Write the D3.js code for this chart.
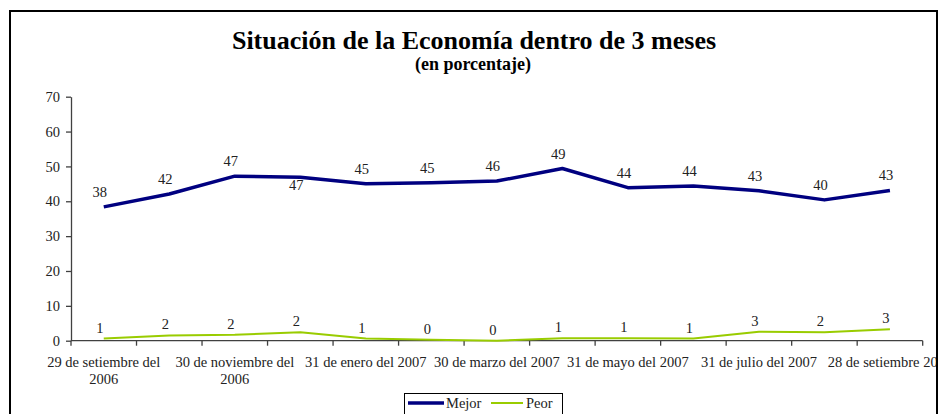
<!DOCTYPE html>
<html>
<head>
<meta charset="utf-8">
<script src="https://cdn.jsdelivr.net/npm/d3@7"></script>
<style>
  html, body { margin: 0; padding: 0; background: #fff; }
  svg { display: block; font-family: "Liberation Serif", "Times New Roman", serif; }
</style>
</head>
<body>
<svg id="chart" width="941" height="414"></svg>
<script>
const title = "Situación de la Economía dentro de 3 meses";
const subtitle = "(en porcentaje)";
const categories = [
  "29 de setiembre del 2006", "31 de octubre del 2006", "30 de noviembre del 2006",
  "29 de diciembre del 2006", "31 de enero del 2007", "28 de febrero del 2007",
  "30 de marzo del 2007", "30 de abril del 2007", "31 de mayo del 2007",
  "29 de junio del 2007", "31 de julio del 2007", "31 de agosto del 2007",
  "28 de setiembre 2007"
];
const mejor = [38.4, 42.1, 47.2, 46.9, 45.0, 45.3, 45.8, 49.4, 43.9, 44.4, 43.0, 40.4, 43.1];
const peor  = [0.6, 1.5, 1.7, 2.4, 0.6, 0.3, 0.0, 0.7, 0.7, 0.6, 2.6, 2.4, 3.3];
const yTicks = [0, 10, 20, 30, 40, 50, 60, 70];
const seriesNames = ["Mejor", "Peor"];

(function () {
const FONT = "Liberation Serif, Times New Roman, serif";
const FS = 14.5;
const svg = d3.select("#chart");
const pLeft = 71, pRight = 922.7, pTop = 96.7, pBottom = 340.7;

svg.append("defs").append("clipPath").attr("id", "clip")
  .append("rect").attr("x", 10).attr("y", 11).attr("width", 926).attr("height", 420);

const g = svg.append("g").attr("clip-path", "url(#clip)").attr("font-family", FONT);

const x = d3.scaleBand().domain(categories).range([pLeft, pRight]).padding(0);
const y = d3.scaleLinear().domain([0, 70]).range([pBottom, pTop]);
const cx = d => x(d) + x.bandwidth() / 2;

// Title
g.append("text").attr("x", 474).attr("y", 49).attr("text-anchor", "middle")
  .attr("font-size", 26).attr("font-weight", "bold").attr("fill", "#000").text(title);
g.append("text").attr("x", 473).attr("y", 70).attr("text-anchor", "middle")
  .attr("font-size", 18).attr("font-weight", "bold").attr("fill", "#000").text(subtitle);

// Y axis
const yAxis = g.append("g").attr("transform", `translate(${pLeft},0)`)
  .call(d3.axisLeft(y).tickValues(yTicks).tickSize(5).tickPadding(6).tickSizeOuter(0));
yAxis.attr("font-family", FONT).attr("font-size", FS);
yAxis.select(".domain").attr("stroke", "#404040").attr("stroke-width", 1.3);
yAxis.selectAll(".tick line").attr("stroke", "#404040").attr("stroke-width", 1.3);
yAxis.selectAll(".tick text").attr("fill", "#222");

// X axis: ticks at category boundaries
const boundaries = categories.map(c => x(c)).concat([pRight]);
const xAxisG = g.append("g");
xAxisG.append("line").attr("x1", pLeft).attr("x2", pRight).attr("y1", pBottom).attr("y2", pBottom)
  .attr("stroke", "#404040").attr("stroke-width", 1.3);
xAxisG.selectAll("line.tk").data(boundaries).join("line").attr("class", "tk")
  .attr("x1", d => d).attr("x2", d => d).attr("y1", pBottom).attr("y2", pBottom + 5)
  .attr("stroke", "#404040").attr("stroke-width", 1.3);

const labelWidth = x.bandwidth() * 2;
categories.forEach((c, i) => {
  if (i % 2 !== 0) return;
  const t = xAxisG.append("text").attr("text-anchor", "middle").attr("font-size", FS)
    .attr("fill", "#222").attr("x", cx(c)).attr("y", pBottom + 26);
  const words = c.split(" ");
  let line = [];
  let tspan = t.append("tspan").attr("x", cx(c)).attr("dy", 0);
  words.forEach(w => {
    line.push(w);
    tspan.text(line.join(" "));
    if (tspan.node().getComputedTextLength() > labelWidth - 2 && line.length > 1) {
      line.pop();
      tspan.text(line.join(" "));
      line = [w];
      tspan = t.append("tspan").attr("x", cx(c)).attr("dy", 17).text(w);
    }
  });
});

// Lines
const lineGen = d3.line().x((d, i) => cx(categories[i])).y(d => y(d));
g.append("path").datum(peor).attr("d", lineGen).attr("fill", "none")
  .attr("stroke", "#99CC00").attr("stroke-width", 2).attr("stroke-linejoin", "round");
g.append("path").datum(mejor).attr("d", lineGen).attr("fill", "none")
  .attr("stroke", "#000080").attr("stroke-width", 3.5).attr("stroke-linejoin", "round");

// Data labels
g.selectAll("text.ml").data(mejor).join("text").attr("class", "ml")
  .attr("x", (d, i) => cx(categories[i]) - 4)
  .attr("y", (d, i) => i === 3 ? y(d) + 13 : y(d) - 10)
  .attr("text-anchor", "middle").attr("font-size", FS).attr("fill", "#222")
  .text(d => Math.round(d));
g.selectAll("text.pl").data(peor).join("text").attr("class", "pl")
  .attr("x", (d, i) => cx(categories[i]) - 4)
  .attr("y", d => y(d) - 6)
  .attr("text-anchor", "middle").attr("font-size", FS).attr("fill", "#222")
  .text(d => Math.round(d));

// Legend
const lg = g.append("g");
lg.append("rect").attr("x", 404.5).attr("y", 393.5).attr("width", 158).attr("height", 30)
  .attr("fill", "#fff").attr("stroke", "#000").attr("stroke-width", 1);
lg.append("line").attr("x1", 408).attr("x2", 444).attr("y1", 403).attr("y2", 403)
  .attr("stroke", "#000080").attr("stroke-width", 3.5);
lg.append("text").attr("x", 446).attr("y", 408).attr("font-size", FS).attr("fill", "#222").text(seriesNames[0]);
lg.append("line").attr("x1", 491).attr("x2", 523).attr("y1", 403).attr("y2", 403)
  .attr("stroke", "#99CC00").attr("stroke-width", 2);
lg.append("text").attr("x", 526).attr("y", 408).attr("font-size", FS).attr("fill", "#222").text(seriesNames[1]);

// Border
svg.append("rect").attr("x", 10).attr("y", 11).attr("width", 927).attr("height", 420)
  .attr("fill", "none").attr("stroke", "#000").attr("stroke-width", 2);
})();
</script>
</body>
</html>
